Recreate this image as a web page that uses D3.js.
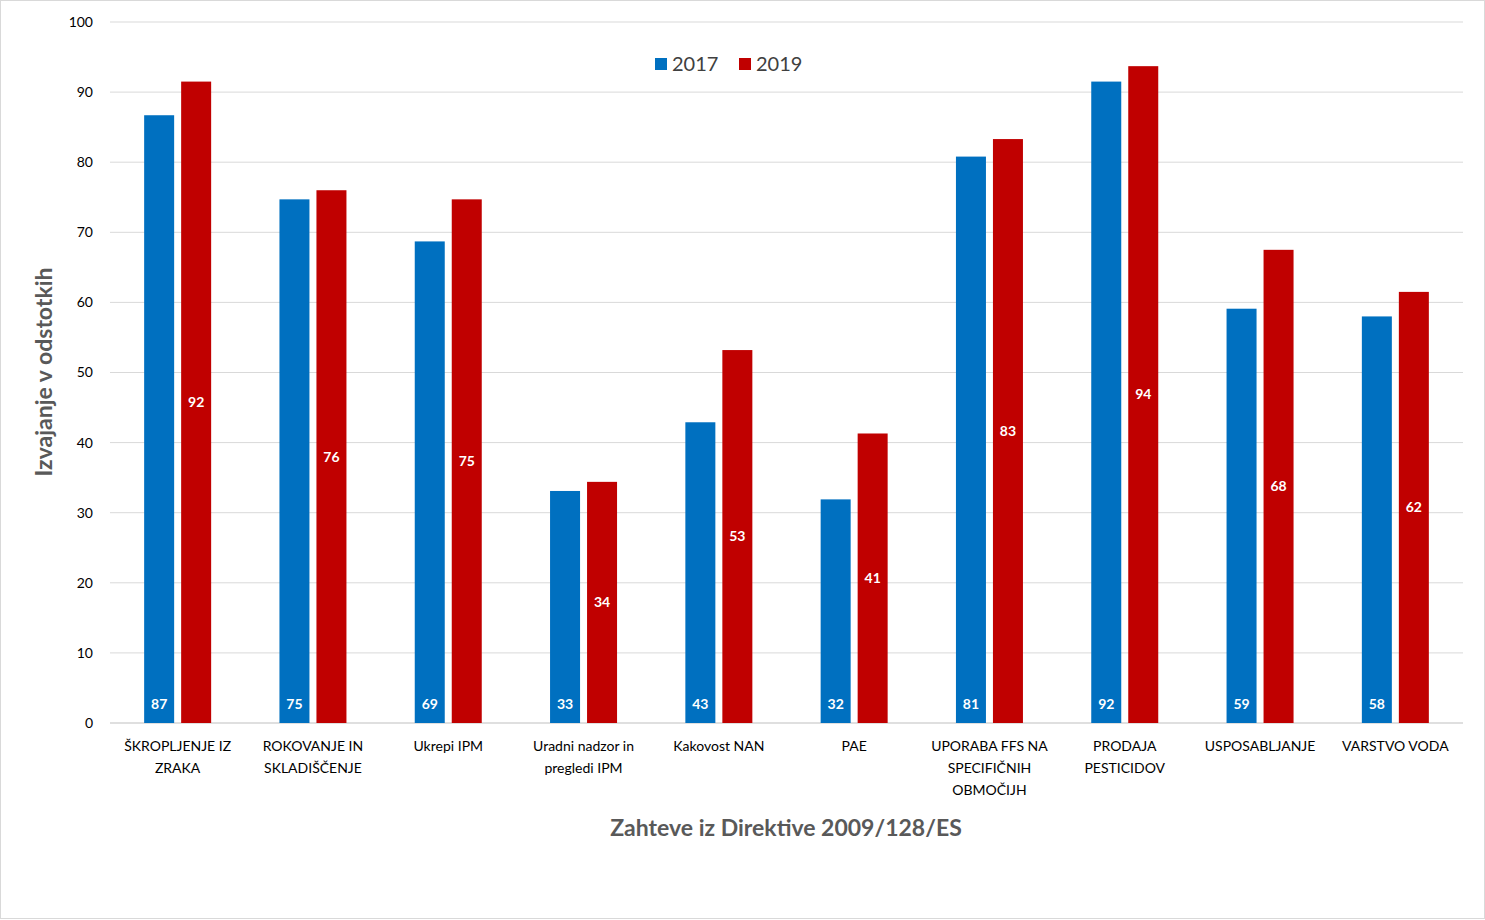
<!DOCTYPE html>
<html><head><meta charset="utf-8">
<script src="https://cdn.jsdelivr.net/npm/d3@7"></script>
<style>body{margin:0;background:#fff}text{font-family:"Liberation Sans Narrow","Lato",sans-serif}</style>
</head><body><svg id="c" width="1485" height="920"></svg>
<script>
const categories = [["ŠKROPLJENJE IZ","ZRAKA"],["ROKOVANJE IN","SKLADIŠČENJE"],["Ukrepi IPM"],["Uradni nadzor in","pregledi IPM"],["Kakovost NAN"],["PAE"],["UPORABA FFS NA","SPECIFIČNIH","OBMOČIJH"],["PRODAJA","PESTICIDOV"],["USPOSABLJANJE"],["VARSTVO VODA"]];
const values2017 = [86.7,74.7,68.7,33.1,42.9,31.9,80.8,91.5,59.1,58.0];
const values2019 = [91.5,76.0,74.7,34.4,53.2,41.3,83.3,93.7,67.5,61.5];
const yTicks = [0,10,20,30,40,50,60,70,80,90,100];
const seriesNames = ["2017","2019"];
const colors = ["#0070C0","#C00000"];

const svg = d3.select("#c");
svg.append("rect").attr("x",0.5).attr("y",0.5).attr("width",1484).attr("height",918).attr("fill","#fff").attr("stroke","#d9d9d9");
const L=110,R=1463,T=22,B=723;
const x = d3.scaleBand().domain(d3.range(categories.length)).range([L,R]);
const y = d3.scaleLinear().domain([0,100]).range([B,T]);
const bw=30, gap=7;

yTicks.forEach(t=>{
  svg.append("line").attr("x1",L).attr("x2",R).attr("y1",y(t)).attr("y2",y(t)).attr("stroke",t===0?"#bfbfbf":"#d9d9d9");
  svg.append("text").attr("x",93).attr("y",y(t)).attr("dy","0.35em").attr("text-anchor","end").attr("font-size",14).attr("fill","#000").text(t);
});

[values2017,values2019].forEach((vals,s)=>{
  vals.forEach((v,i)=>{
    const cx = x(i)+x.bandwidth()/2;
    const bx = s===0 ? cx-gap/2-bw : cx+gap/2;
    svg.append("rect").attr("x",bx).attr("y",y(v)).attr("width",bw).attr("height",B-y(v)).attr("fill",colors[s]);
    const ly = s===0 ? B-19 : (y(v)+B)/2;
    svg.append("text").attr("x",bx+bw/2).attr("y",ly).attr("dy","0.35em").attr("text-anchor","middle")
      .attr("font-size",14).attr("font-weight","bold").attr("fill","#fff").text(Math.round(v));
  });
});

categories.forEach((lines,i)=>{
  const t = svg.append("text").attr("x",x(i)+x.bandwidth()/2).attr("y",751).attr("text-anchor","middle").attr("font-size",14).attr("fill","#000");
  lines.forEach((ln,j)=>t.append("tspan").attr("x",x(i)+x.bandwidth()/2).attr("dy",j?22:0).text(ln));
});

svg.append("text").attr("x",786).attr("y",836).attr("text-anchor","middle").attr("font-size",23).attr("font-weight","bold").attr("fill","#595959").text("Zahteve iz Direktive 2009/128/ES");
svg.append("text").attr("transform","translate(52,372) rotate(-90)").attr("text-anchor","middle").attr("font-size",23).attr("font-weight","bold").attr("fill","#595959").text("Izvajanje v odstotkih");

seriesNames.forEach((n,s)=>{
  const lx = 655 + s*84;
  svg.append("rect").attr("x",lx).attr("y",58).attr("width",12).attr("height",12).attr("fill",colors[s]);
  svg.append("text").attr("x",lx+17).attr("y",64).attr("dy","0.35em").attr("font-size",20).attr("fill","#404040").text(n);
});
</script></body></html>
